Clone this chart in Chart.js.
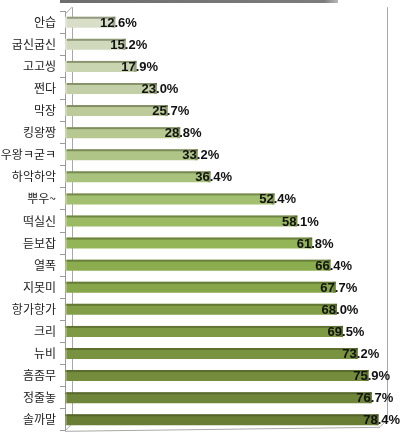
<!DOCTYPE html>
<html><head><meta charset="utf-8">
<script src="https://cdn.jsdelivr.net/npm/chart.js@4/dist/chart.umd.min.js"></script>
<style>html,body{margin:0;padding:0;background:#fff}#wrap{width:400px;height:442px}</style>
</head><body><div id="wrap"><canvas id="c"></canvas></div>
<script>
const categories = ['안습','굽신굽신','고고씽','쩐다','막장','킹왕짱','우왕ㅋ굳ㅋ','하악하악','뿌우~','떡실신','듣보잡','열폭','지못미','항가항가','크리','뉴비','흠좀무','정줄놓','솔까말'];
const values = [12.6,15.2,17.9,23.0,25.7,28.8,33.2,36.4,52.4,58.1,61.8,66.4,67.7,68.0,69.5,73.2,75.9,76.7,78.4];
const barColors = ['#d8dec8','#d1d9bd','#c9d4b0','#c3cfa6','#bdcb9b','#b7c891','#afc487','#a9c27e','#a3bf70','#9bba63','#93b457','#8cad4f','#87a649','#829f47','#7e9943','#78923f','#748c3c','#6f8539','#697d35'];

const deco = {
  id:'deco',
  beforeDatasetsDraw(chart){
    const {ctx, chartArea:a} = chart;
    ctx.save();
    ctx.strokeStyle = '#a8a8a8'; ctx.lineWidth = 1;
    const d = 7;
    ctx.beginPath();
    ctx.moveTo(a.left+d+0.5, a.top-4); ctx.lineTo(a.left+d+0.5, a.bottom-d);
    ctx.moveTo(a.right+0.5, a.top-4); ctx.lineTo(a.right+0.5, a.bottom-d-4);
    ctx.moveTo(a.left, a.bottom); ctx.lineTo(a.left+d, a.bottom-d);
    ctx.moveTo(a.right, a.bottom-d-4); ctx.lineTo(a.right-d, a.bottom-4);
    ctx.moveTo(a.left, a.bottom+0.5); ctx.lineTo(a.right-d, a.bottom-3.5);
    ctx.moveTo(a.left, a.top+3); ctx.lineTo(a.left+d, a.top-4);
    ctx.stroke();
    ctx.restore();
  },
  afterDatasetsDraw(chart){
    const {ctx} = chart;
    const meta = chart.getDatasetMeta(0);
    ctx.save();
    meta.data.forEach((bar,i)=>{
      const top = bar.y - bar.height/2;
      const left = bar.base;
      ctx.fillStyle = 'rgba(60,70,30,0.45)';
      ctx.fillRect(left+2, top, bar.x-left-2, 2);
      ctx.fillStyle = 'rgba(40,50,20,0.3)';
      ctx.fillRect(bar.x-3, top, 3, bar.height);
      ctx.fillStyle = 'rgba(255,255,255,0.25)';
      ctx.fillRect(left, top+2, 2, bar.height-2);
    });
    ctx.font = 'bold 13px "Liberation Sans", Arial, sans-serif';
    ctx.fillStyle = '#111';
    ctx.textAlign = 'center'; ctx.textBaseline = 'middle';
    meta.data.forEach((bar,i)=>{
      ctx.fillText(values[i].toFixed(1)+'%', bar.x+3, bar.y+1);
    });
    ctx.restore();
  },
  afterDraw(chart){
    const {ctx} = chart;
    ctx.save();
    const g = ctx.createLinearGradient(60,0,338,0);
    g.addColorStop(0,'#6e6e6e'); g.addColorStop(0.95,'#7c7c7c'); g.addColorStop(1,'#b8b8b8');
    ctx.fillStyle = g;
    ctx.fillRect(60,0,278,3);
    ctx.restore();
  }
};

new Chart(document.getElementById('c'), {
  type:'bar',
  data:{ labels:categories, datasets:[{ data:values, backgroundColor:barColors, borderWidth:0, barPercentage:0.5, categoryPercentage:1 }]},
  options:{
    indexAxis:'y', responsive:true, maintainAspectRatio:false, animation:false,
    layout:{ padding:{ top:9, right:13, bottom:6, left:0 } },
    plugins:{ legend:{display:false}, tooltip:{enabled:false} },
    scales:{
      x:{ display:false, min:0, max:80.5 },
      y:{
        afterFit(s){ s.width = 65; },
        border:{ display:true, color:'#9a9a9a' },
        grid:{ drawOnChartArea:false, tickLength:5, color:'#9a9a9a', offset:true },
        ticks:{ color:'#222', padding:4, font:{ family:'"Noto Sans CJK KR", sans-serif', size:12 } }
      }
    }
  },
  plugins:[deco]
});
</script></body></html>
